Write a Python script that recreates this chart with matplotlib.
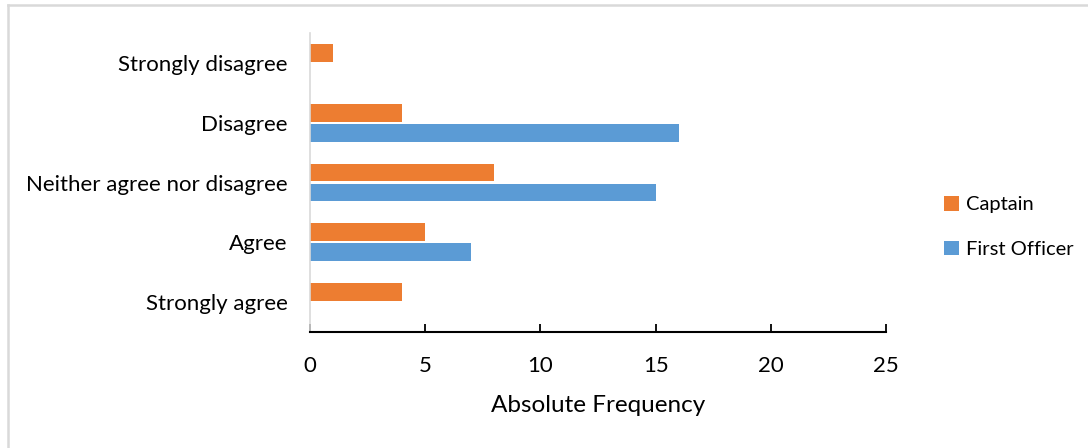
import numpy as np
import matplotlib.pyplot as plt
from matplotlib.lines import Line2D

# Survey responses, listed bottom to top as drawn
categories = ['Strongly agree', 'Agree', 'Neither agree nor disagree', 'Disagree', 'Strongly disagree']
captain = [4, 5, 8, 4, 1]
first_officer = [0, 7, 15, 16, 0]

orange = '#ED7D31'
blue = '#5B9BD5'

plt.rcParams['font.family'] = ['Lato', 'DejaVu Sans']

fig = plt.figure(figsize=(10.88, 4.48), dpi=100)
ax = fig.add_axes([310/1088, 1 - 332/448, 576/1088, 299/448])

y = np.arange(len(categories))
h = 0.3
off = 0.167
ax.barh(y + off, captain, height=h, color=orange, label='Captain')
ax.barh(y - off, first_officer, height=h, color=blue, label='First Officer')

ax.set_xlim(0, 25)
ax.set_ylim(-0.5, len(categories) - 0.5)
ax.set_xticks(np.arange(0, 26, 5))
ax.set_yticks(y)
ax.set_yticklabels(categories, fontsize=16)
ax.tick_params(axis='x', direction='in', length=6, width=1.3, labelsize=16, pad=17, color='black')
ax.tick_params(axis='y', length=0, pad=16)
ax.set_xlabel('Absolute Frequency', fontsize=17.5, labelpad=14)

for s in ['top', 'right']:
    ax.spines[s].set_visible(False)
ax.spines['bottom'].set_linewidth(1.5)
ax.spines['bottom'].set_color('black')
ax.spines['left'].set_color('#d9d9d9')
ax.spines['left'].set_linewidth(1.2)

handles, labels = ax.get_legend_handles_labels()
fig.legend(handles, labels, loc='center left', bbox_to_anchor=(926/1088, 1 - 227/448),
           frameon=False, fontsize=14.5, handlelength=0.75, handleheight=0.75,
           handletextpad=0.35, labelspacing=1.35)

# light grey frame edges (left and top) around the chart area
fig.add_artist(Line2D([7.5/1088, 7.5/1088], [0, 1 - 5.5/448], transform=fig.transFigure,
                      color='#d9d9d9', linewidth=1.8))
fig.add_artist(Line2D([7.5/1088, 1], [1 - 5.5/448, 1 - 5.5/448], transform=fig.transFigure,
                      color='#d9d9d9', linewidth=1.8))

fig.savefig('out.png', dpi=100)
